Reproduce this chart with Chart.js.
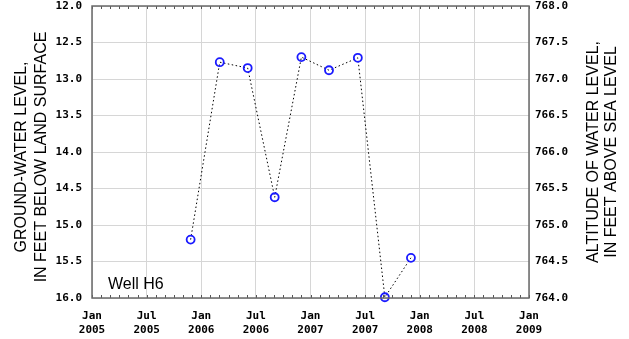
<!DOCTYPE html>
<html>
<head>
<meta charset="utf-8">
<script src="https://cdn.jsdelivr.net/npm/chart.js@4/dist/chart.umd.min.js"></script>
<style>
  html, body { margin: 0; padding: 0; background: #fff; }
  #wrap { width: 629px; height: 339px; position: relative; }
</style>
</head>
<body>
<div id="wrap"><canvas id="c"></canvas></div>
<script>
// Measurement dates and depth to water (feet below land surface), Well H6
const sampleDates = ['2005-11-26', '2006-03-02', '2006-06-04', '2006-09-03', '2006-12-01',
                     '2007-03-02', '2007-06-07', '2007-09-06', '2007-12-02'];
const depthBelowSurface = [15.20, 12.77, 12.85, 14.62, 12.70, 12.88, 12.71, 15.99, 15.45];

// Axis tick labels
const xTickLabels = [['Jan', '2005'], ['Jul', '2005'], ['Jan', '2006'], ['Jul', '2006'], ['Jan', '2007'],
                     ['Jul', '2007'], ['Jan', '2008'], ['Jul', '2008'], ['Jan', '2009']];
const leftTickLabels = ['12.0', '12.5', '13.0', '13.5', '14.0', '14.5', '15.0', '15.5', '16.0'];
const rightTickLabels = ['764.0', '764.5', '765.0', '765.5', '766.0', '766.5', '767.0', '767.5', '768.0'];

const wellName = 'Well H6';
const leftTitle = ['GROUND-WATER LEVEL,', 'IN FEET BELOW LAND SURFACE'];
const rightTitle = ['ALTITUDE OF WATER LEVEL,', 'IN FEET ABOVE SEA LEVEL'];

// months elapsed since Jan 1, 2005 (fractional)
function monthsSince2005(s) {
  const [y, m, d] = s.split('-').map(Number);
  const dim = new Date(Date.UTC(y, m, 0)).getUTCDate();
  return (y - 2005) * 12 + (m - 1) + (d - 1) / dim;
}

const points = sampleDates.map((s, i) => ({ x: monthsSince2005(s), y: depthBelowSurface[i] }));

const tickFont = { family: 'DejaVu Sans Mono', size: 11, weight: 'bold', lineHeight: 1.2 };
const gridColor = '#d6d6d6';

function noEdgePadding(s) {
  s.paddingTop = 0; s.paddingBottom = 0; s.paddingLeft = 0; s.paddingRight = 0;
}

const framePlugin = {
  id: 'frame',
  afterDraw(chart) {
    const { ctx, chartArea: a, scales } = chart;
    ctx.save();
    // monthly minor ticks along top and bottom edges
    ctx.strokeStyle = '#555';
    ctx.lineWidth = 1;
    ctx.beginPath();
    for (let m = 0; m <= 48; m++) {
      const px = Math.round(scales.x.getPixelForValue(m)) + 0.5;
      ctx.moveTo(px, a.bottom);
      ctx.lineTo(px, a.bottom - 3);
      ctx.moveTo(px, a.top);
      ctx.lineTo(px, a.top + 3);
    }
    ctx.stroke();
    // plot frame
    ctx.strokeStyle = '#6a6a6a';
    ctx.lineWidth = 1.5;
    ctx.strokeRect(a.left, a.top, a.right - a.left, a.bottom - a.top);

    // axis titles
    ctx.fillStyle = '#000';
    ctx.font = '16px "Liberation Sans", Arial, sans-serif';
    ctx.textAlign = 'center';
    ctx.textBaseline = 'middle';
    const drawVertical = (lines, xs, yc) => {
      lines.forEach((t, i) => {
        ctx.save();
        ctx.translate(xs[i], yc);
        ctx.rotate(-Math.PI / 2);
        ctx.fillText(t, 0, 0);
        ctx.restore();
      });
    };
    drawVertical(leftTitle, [22, 42], 157);
    drawVertical(rightTitle, [594, 612], 152);

    // well label
    ctx.textAlign = 'left';
    ctx.textBaseline = 'alphabetic';
    ctx.fillText(wellName, a.left + 16, a.bottom - 9);
    ctx.restore();
  }
};

new Chart(document.getElementById('c'), {
  type: 'scatter',
  data: {
    datasets: [{
      data: points,
      showLine: true,
      borderColor: '#000',
      borderWidth: 1,
      borderDash: [1.5, 2.5],
      pointRadius: 4,
      pointBorderWidth: 1.8,
      pointBorderColor: '#1a1aff',
      pointBackgroundColor: 'rgba(255,255,255,0)',
      clip: false,
      yAxisID: 'y'
    }]
  },
  options: {
    responsive: true,
    maintainAspectRatio: false,
    animation: false,
    layout: { padding: { top: 6, left: 0, right: 0, bottom: 0 } },
    plugins: { legend: { display: false }, tooltip: { enabled: false } },
    scales: {
      x: {
        type: 'linear',
        min: 0, max: 48,
        afterBuildTicks(s) { s.ticks = xTickLabels.map((_, i) => ({ value: i * 6 })); },
        afterFit(s) { s.height = 41; noEdgePadding(s); },
        grid: { color: gridColor, drawTicks: false },
        border: { display: false },
        ticks: {
          autoSkip: false, maxRotation: 0, padding: 12,
          color: '#000', font: tickFont,
          callback: (v, i) => xTickLabels[i]
        }
      },
      y: {
        type: 'linear',
        position: 'left',
        reverse: true,
        min: 12, max: 16,
        afterBuildTicks(s) { s.ticks = leftTickLabels.map(t => ({ value: parseFloat(t) })); },
        afterFit(s) { s.width = 92; noEdgePadding(s); },
        grid: { color: gridColor, drawTicks: false },
        border: { display: false },
        ticks: {
          padding: 10, color: '#000', font: tickFont,
          callback: (v, i) => leftTickLabels[i]
        }
      },
      y2: {
        type: 'linear',
        position: 'right',
        min: 764, max: 768,
        afterBuildTicks(s) { s.ticks = rightTickLabels.map(t => ({ value: parseFloat(t) })); },
        afterFit(s) { s.width = 100; noEdgePadding(s); },
        grid: { display: false, drawTicks: false },
        border: { display: false },
        ticks: {
          padding: 6, color: '#000', font: tickFont,
          callback: (v, i) => rightTickLabels[i]
        }
      }
    }
  },
  plugins: [framePlugin]
});
</script>
</body>
</html>
